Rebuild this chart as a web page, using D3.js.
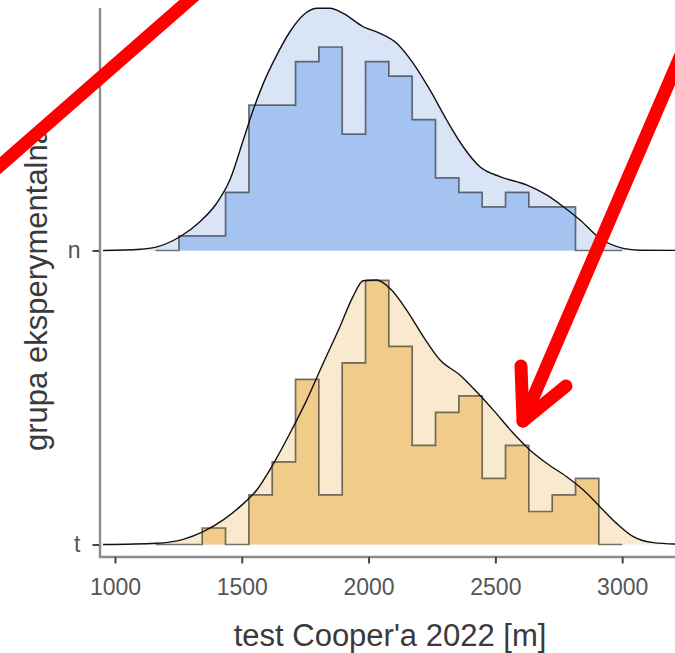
<!DOCTYPE html>
<html><head><meta charset="utf-8">
<script src="https://cdn.jsdelivr.net/npm/d3@7"></script>
<style>body{margin:0;background:#fff} svg{display:block}</style>
</head><body>
<svg id="chart" width="675" height="653"></svg>
<script>
// ---------------- data ----------------
const groups = ["n", "t"];
const binEdges = [1160,1252,1344,1436,1528,1620,1712,1804,1896,1988,2080,2172,2264,2356,2448,2540,2632,2724,2816,2908,3000];
const countsN = [0,1,1,4,10,10,13,14,8,13,12,9,5,4,3,4,3,3,0,0];
const countsT = [0,0,1,0,3,5,10,3,11,16,12,6,8,9,4,6,2,3,4,0];
// density curves (x in m, density per km)
const densNx = [953,1100,1158,1256,1335,1401,1453,1506,1545,1585,1638,1690,1743,1795,1848,1900,1979,2045,2111,2176,2242,2308,2373,2439,2518,2623,2702,2768,2834,2912,3004,3070,3260];
const densNy = [0,0.008,0.020,0.088,0.184,0.302,0.450,0.706,0.898,1.068,1.249,1.398,1.505,1.548,1.548,1.516,1.430,1.388,1.324,1.196,1.026,0.834,0.663,0.535,0.472,0.419,0.355,0.280,0.195,0.078,0.014,0.002,0];
const densTx = [953,1164,1269,1348,1427,1493,1559,1618,1690,1756,1821,1887,1938,1979,2032,2084,2150,2216,2282,2360,2426,2492,2571,2636,2702,2781,2847,2912,2978,3044,3123,3260];
const densTy = [0,0.008,0.033,0.082,0.157,0.242,0.348,0.497,0.711,0.923,1.158,1.392,1.583,1.686,1.690,1.637,1.498,1.328,1.179,1.083,0.976,0.859,0.711,0.604,0.519,0.433,0.348,0.242,0.135,0.050,0.012,0];
const xTicks = [1000,1500,2000,2500,3000];
const xTitle = "test Cooper'a 2022 [m]";
const yTitle = "grupa eksperymentalna";

// ---------------- setup ----------------
const svg = d3.select("#chart");
const font = "'Liberation Sans', Arial, sans-serif";
const x = d3.scaleLinear().domain([941, 3230]).range([100, 680.5]);
const yBase = d3.scalePoint().domain(["t", "n"]).range([544.5, 250.5]);
const h = d3.scaleLinear().domain([0, 1.7]).range([0, 266]);
const colors = {
  n: {hist: "#a4c3f1", dens: "#d9e5f7"},
  t: {hist: "#f0cb8a", dens: "#f9eacf"}
};
const series = [
  {g: "n", counts: countsN, dx: densNx, dy: densNy},
  {g: "t", counts: countsT, dx: densTx, dy: densTy}
];

svg.append("defs").append("clipPath").attr("id", "panel")
  .append("rect").attr("x", 100).attr("y", 0).attr("width", 575).attr("height", 557);

const plot = svg.append("g").attr("clip-path", "url(#panel)");
const binW = binEdges[1] - binEdges[0];

series.forEach(s => {
  const base = yBase(s.g);
  const N = d3.sum(s.counts);
  const dens = s.dx.map((v, i) => ({x: v, d: s.dy[i]}));
  const hist = binEdges.map((e, i) => ({x: e, d: i < s.counts.length ? s.counts[i] / (N * binW) * 1000 : 0}));

  const densArea = d3.area().x(p => x(p.x)).y0(base).y1(p => base - h(p.d)).curve(d3.curveMonotoneX);
  const densLine = d3.line().x(p => x(p.x)).y(p => base - h(p.d)).curve(d3.curveMonotoneX);
  const histArea = d3.area().x(p => x(p.x)).y0(base).y1(p => base - h(p.d)).curve(d3.curveStepAfter);
  const histLine = d3.line().x(p => x(p.x)).y(p => base - h(p.d)).curve(d3.curveStepAfter);

  plot.append("path").attr("d", densArea(dens)).attr("fill", colors[s.g].dens);
  plot.append("path").attr("d", histArea(hist)).attr("fill", colors[s.g].hist);
  plot.append("path").attr("d", histLine(hist)).attr("fill", "none")
    .attr("stroke", "rgba(30,30,30,0.6)").attr("stroke-width", 1.7);
  plot.append("path").attr("d", densLine(dens)).attr("fill", "none")
    .attr("stroke", "#111").attr("stroke-width", 1.4);
});

// ---------------- axes ----------------
const axisCol = "#8c8c8c";
svg.append("line").attr("x1", 100).attr("x2", 100).attr("y1", 8).attr("y2", 558)
  .attr("stroke", axisCol).attr("stroke-width", 2.4);
svg.append("line").attr("x1", 99).attr("x2", 675).attr("y1", 557).attr("y2", 557)
  .attr("stroke", axisCol).attr("stroke-width", 2.4);

const xAxis = svg.append("g").attr("transform", "translate(0,557)")
  .call(d3.axisBottom(x).tickValues(xTicks).tickSize(6.5).tickSizeOuter(0).tickPadding(15).tickFormat(d3.format("d")));
xAxis.select(".domain").remove();
xAxis.selectAll(".tick line").attr("stroke", "#444").attr("stroke-width", 2);
xAxis.selectAll(".tick text").attr("fill", "#555").style("font-family", font).style("font-size", "23px");

const yAxis = svg.append("g").attr("transform", "translate(99,0)")
  .call(d3.axisLeft(yBase).tickSize(6.5).tickSizeOuter(0).tickPadding(12));
yAxis.select(".domain").remove();
yAxis.selectAll(".tick line").attr("stroke", "#444").attr("stroke-width", 2);
yAxis.selectAll(".tick text").attr("fill", "#555").style("font-family", font).style("font-size", "23px");

svg.append("text").attr("x", 390).attr("y", 646).attr("text-anchor", "middle")
  .attr("fill", "#3a3a3a").style("font-family", font).style("font-size", "31px").text(xTitle);
svg.append("text").attr("transform", "translate(47,289) rotate(-90)").attr("text-anchor", "middle")
  .attr("fill", "#3a3a3a").style("font-family", font).style("font-size", "31px").text(yTitle);

// ---------------- red annotations ----------------
const red = svg.append("g").attr("fill", "none").attr("stroke", "#ff0000")
  .attr("stroke-width", 13).attr("stroke-linecap", "round").attr("stroke-linejoin", "round");
red.append("path").attr("d", "M-5,170L195,-5");
red.append("path").attr("d", "M683,50L523,421");
red.append("path").attr("d", "M521,366L523,421L566,386");
</script>
</body></html>
